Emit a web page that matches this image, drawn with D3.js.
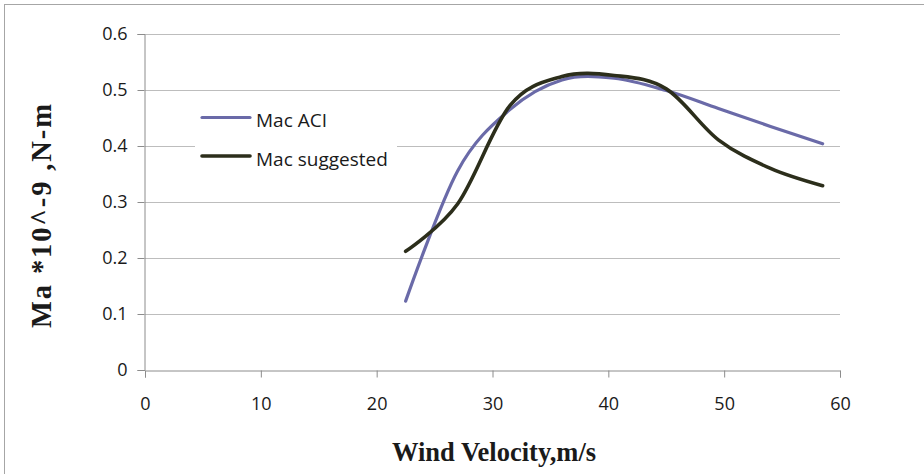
<!DOCTYPE html>
<html>
<head>
<meta charset="utf-8">
<script src="https://cdn.jsdelivr.net/npm/d3@7"></script>
<style>
	body { margin: 0; background: #fff; }
	svg { display: block; }
</style>
</head>
<body>
<script>
	// wind velocity (m/s)
	const velocity = [22.5, 27, 31.5, 36, 40.5, 45, 49.5, 54, 58.5];
	// Ma * 10^-9, N-m
	const macACI = [0.123, 0.356, 0.465, 0.518, 0.521, 0.499, 0.467, 0.435, 0.404];
	const macSuggested = [0.212, 0.297, 0.472, 0.524, 0.526, 0.502, 0.411, 0.360, 0.329];

	const xTicks = [0, 10, 20, 30, 40, 50, 60];
	const yTicks = [0, 0.1, 0.2, 0.3, 0.4, 0.5, 0.6];

	const seriesNames = ["Mac ACI", "Mac suggested"];
	const seriesColors = ["#6a6aa8", "#2c2e1b"];

	const width = 924, height = 474;
	const labelFont = "'Open Sans', 'DejaVu Sans', sans-serif";
	const titleFont = "'Liberation Serif', 'Times New Roman', serif";

	const svg = d3.select("body").append("svg")
		.attr("width", width)
		.attr("height", height);

	// outer chart border (only top and left visible in frame)
	svg.append("rect")
		.attr("x", 4.5)
		.attr("y", 4.5)
		.attr("width", width)
		.attr("height", height)
		.attr("fill", "#fff")
		.attr("stroke", "#a6a6a6");

	const x = d3.scaleLinear().domain([0, 60]).range([145, 840]);
	const y = d3.scaleLinear().domain([0, 0.6]).range([370, 34]);

	// gridlines
	svg.append("g")
		.selectAll("line")
		.data(yTicks.slice(1))
		.join("line")
		.attr("x1", x(0))
		.attr("x2", x(60))
		.attr("y1", d => Math.round(y(d)) + 0.5)
		.attr("y2", d => Math.round(y(d)) + 0.5)
		.attr("stroke", "#bdbdbd");

	// y axis
	const yAxis = svg.append("g")
		.attr("transform", `translate(${x(0) - 0.5},0)`)
		.call(d3.axisLeft(y).tickValues(yTicks).tickFormat(d => d === 0 ? "0" : d3.format(".1f")(d)).tickSize(7).tickPadding(10));
	yAxis.select(".domain").attr("stroke", "#8c8c8c");
	yAxis.selectAll(".tick line").attr("stroke", "#8c8c8c");
	yAxis.selectAll(".tick text")
		.attr("font-family", labelFont)
		.attr("font-size", 18)
		.attr("fill", "#1a1a1a");

	// x axis
	const xAxis = svg.append("g")
		.attr("transform", `translate(0,${y(0) + 0.5})`)
		.call(d3.axisBottom(x).tickValues(xTicks).tickSize(7).tickPadding(20));
	xAxis.select(".domain").attr("stroke", "#8c8c8c");
	xAxis.selectAll(".tick line").attr("stroke", "#8c8c8c");
	xAxis.selectAll(".tick text")
		.attr("font-family", labelFont)
		.attr("font-size", 18)
		.attr("fill", "#1a1a1a");

	// series
	const line = d3.line()
		.x((d, i) => x(velocity[i]))
		.y(d => y(d))
		.curve(d3.curveCardinal.tension(0));

	[macACI, macSuggested].forEach((values, i) => {
		svg.append("path")
			.datum(values)
			.attr("d", line)
			.attr("fill", "none")
			.attr("stroke", seriesColors[i])
			.attr("stroke-width", i === 0 ? 3.2 : 3.6)
			.attr("stroke-linejoin", "round")
			.attr("stroke-linecap", "round");
	});

	// legend
	const legend = svg.append("g");
	legend.append("rect")
		.attr("x", 195)
		.attr("y", 98)
		.attr("width", 202)
		.attr("height", 80)
		.attr("fill", "#fff");

	seriesNames.forEach((name, i) => {
		const ly = 117.5 + i * 38.5;
		legend.append("line")
			.attr("x1", 202)
			.attr("x2", 250)
			.attr("y1", ly)
			.attr("y2", ly)
			.attr("stroke", seriesColors[i])
			.attr("stroke-width", i === 0 ? 3.2 : 3.6)
			.attr("stroke-linecap", "round");
		legend.append("text")
			.attr("x", 256)
			.attr("y", ly + 9.5)
			.attr("font-family", labelFont)
			.attr("font-size", 19)
			.attr("fill", "#1a1a1a")
			.text(name);
	});

	// axis titles
	svg.append("text")
		.attr("x", 494)
		.attr("y", 461)
		.attr("text-anchor", "middle")
		.attr("font-family", titleFont)
		.attr("font-weight", "bold")
		.attr("font-size", 26.5)
		.attr("fill", "#1a1a1a")
		.text("Wind Velocity,m/s");

	svg.append("text")
		.attr("transform", `translate(51,${216}) rotate(-90)`)
		.attr("text-anchor", "middle")
		.attr("font-family", titleFont)
		.attr("font-weight", "bold")
		.attr("font-size", 28.5)
		.attr("textLength", 224)
		.attr("lengthAdjust", "spacing")
		.attr("fill", "#1a1a1a")
		.text("Ma *10^-9 ,N-m");
</script>
</body>
</html>
